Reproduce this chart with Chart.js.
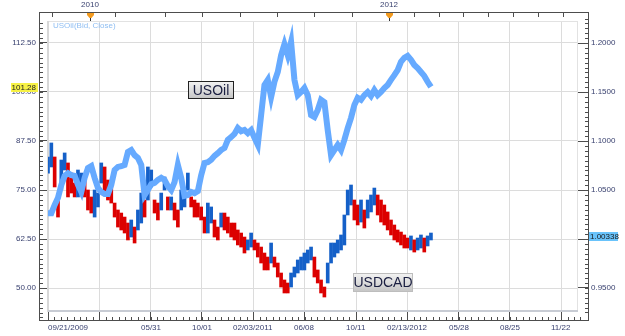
<!DOCTYPE html>
<html>
<head>
<meta charset="utf-8">
<script src="https://cdn.jsdelivr.net/npm/chart.js@4.4.0/dist/chart.umd.min.js"></script>
<style>
    body { margin: 0; background: #fff; }
    canvas { display: block; }
</style>
</head>
<body>
<canvas id="myChart" width="625" height="336"></canvas>
<script>
// eje x: una muestra por barra (indice), etiquetas de fecha en las marcas
const posTicksX = [0, 15.4, 30.8, 46.2, 61.6, 77.0, 92.5, 107.9, 123.3, 138.7, 154.1];
const etiquetasFechas = ['09/21/2009', '', '05/31', '10/01', '02/03/2011', '06/08', '10/11', '02/13/2012', '05/28', '08/25', '11/22'];
const ticksIzq = [50, 62.5, 75, 87.5, 100, 112.5];
const ticksDer = [0.95, 1.0, 1.05, 1.1, 1.15, 1.2];
const marcasAnio = [{ x: 12.6, texto: '2010' }, { x: 102.4, texto: '2012' }];
const ticksSuperiores = [1.2, 20.1, 35.1, 46.2, 57.7, 68.8, 79.9, 91.3, 109.9, 117.4, 124.6, 132.1, 139.6, 147.1, 154.7];

// USOil (Bid, Close) - eje izquierdo
const usoil = [
    69.1, 69.1, 71.2, 73.0, 76.3, 78.6, 79.3, 78.8, 78.6, 76.3,
    74.5, 78.1, 80.6, 81.1, 78.1, 75.5, 74.5, 74.0, 74.0, 76.3,
    80.1, 80.9, 81.1, 81.4, 84.7, 85.2, 83.9, 83.2, 81.4, 73.7,
    75.0, 76.5, 76.8, 77.6, 78.1, 77.6, 76.0, 75.0, 77.0, 81.4,
    78.1, 73.5, 73.7, 74.5, 74.2, 74.7, 78.8, 81.9, 82.1, 82.7,
    83.7, 84.4, 85.2, 85.7, 87.8, 88.5, 89.3, 90.8, 90.0, 90.3,
    89.5, 90.3, 88.3, 86.5, 94.1, 101.8, 103.1, 98.7, 102.6, 105.1,
    109.4, 112.2, 109.4, 112.8, 103.1, 99.2, 100.0, 101.0, 99.2, 94.1,
    93.6, 95.4, 98.0, 97.4, 90.3, 83.9, 85.2, 86.5, 85.2, 87.8,
    90.8, 93.4, 96.7, 98.5, 98.0, 99.2, 100.0, 99.0, 100.5, 99.2,
    100.0, 101.0, 101.8, 103.1, 104.3, 105.6, 107.7, 108.7, 109.2, 108.2,
    106.9, 106.1, 105.1, 104.1, 102.6, 101.28
];

// USDCAD minimos y maximos - eje derecho
const usdcadMin = [
    1.0673, 1.0735, 1.0531, 1.0224, 1.0500, 1.0704, 1.0429, 1.0469, 1.0429, 1.0429,
    1.0500, 1.0429, 1.0296, 1.0265, 1.0224, 1.0327, 1.0571, 1.0469, 1.0398, 1.0367,
    1.0224, 1.0122, 1.0092, 1.0061, 0.9990, 1.0020, 0.9959, 1.0092, 1.0163, 1.0224,
    1.0398, 1.0531, 1.0265, 1.0194, 1.0296, 1.0500, 1.0296, 1.0296, 1.0194, 1.0122,
    1.0296, 1.0327, 1.0500, 1.0327, 1.0224, 1.0224, 1.0194, 1.0061, 1.0061, 1.0163,
    1.0020, 0.9990, 1.0122, 1.0092, 1.0061, 1.0020, 0.9990, 0.9939, 0.9918, 0.9857,
    0.9888, 0.9918, 0.9888, 0.9816, 0.9755, 0.9684, 0.9684, 0.9755, 0.9714, 0.9612,
    0.9510, 0.9449, 0.9449, 0.9510, 0.9612, 0.9653, 0.9684, 0.9684, 0.9755, 0.9786,
    0.9612, 0.9551, 0.9449, 0.9408, 0.9551, 0.9755, 0.9816, 0.9857, 0.9888, 0.9939,
    1.0245, 1.0347, 1.0194, 1.0143, 1.0173, 1.0112, 1.0214, 1.0276, 1.0347, 1.0245,
    1.0173, 1.0143, 1.0092, 1.0041, 0.9990, 0.9969, 0.9939, 0.9908, 0.9908, 0.9888,
    0.9867, 0.9888, 0.9908, 0.9867, 0.9929, 0.9990
];
const usdcadMax = [
    1.0837, 1.0980, 1.0837, 1.0429, 1.0806, 1.0878, 1.0776, 1.0673, 1.0571, 1.0704,
    1.0673, 1.0633, 1.0500, 1.0429, 1.0500, 1.0469, 1.0776, 1.0735, 1.0602, 1.0571,
    1.0367, 1.0296, 1.0265, 1.0224, 1.0163, 1.0194, 1.0122, 1.0296, 1.0469, 1.0398,
    1.0735, 1.0704, 1.0398, 1.0367, 1.0469, 1.0633, 1.0429, 1.0429, 1.0367, 1.0296,
    1.0500, 1.0469, 1.0673, 1.0429, 1.0398, 1.0367, 1.0327, 1.0224, 1.0367, 1.0327,
    1.0194, 1.0122, 1.0265, 1.0265, 1.0224, 1.0163, 1.0163, 1.0092, 1.0061, 1.0020,
    0.9990, 1.0061, 0.9990, 0.9959, 0.9918, 0.9857, 0.9816, 0.9959, 0.9816, 0.9755,
    0.9653, 0.9582, 0.9551, 0.9653, 0.9714, 0.9786, 0.9816, 0.9857, 0.9888, 0.9918,
    0.9816, 0.9684, 0.9582, 0.9510, 0.9755, 0.9959, 0.9959, 0.9990, 1.0041, 1.0245,
    1.0500, 1.0551, 1.0398, 1.0347, 1.0398, 1.0296, 1.0398, 1.0449, 1.0520, 1.0449,
    1.0398, 1.0347, 1.0276, 1.0194, 1.0143, 1.0092, 1.0071, 1.0041, 1.0010, 1.0031,
    0.9990, 1.0010, 1.0041, 1.0010, 1.0031, 1.0061
];
const ultimoUsoil = 101.28;
const ultimoUsdcad = 1.00338;

const colorTexto = '#3a4270';
const colorEje = '#4d4d4d';

const ctx = document.getElementById('myChart');

let puntosUsoil = usoil.map((v, i) => ({ x: i, y: v }));
let barrasUsdcad = usdcadMin.map((lo, i) => ({ x: i, y: [lo, usdcadMax[i]] }));
// azul si sube respecto a la barra anterior, rojo si baja
let coloresUsdcad = usdcadMin.map((lo, i) => {
    if (i === 0) return '#1560c8';
    let medio = (lo + usdcadMax[i]) / 2;
    let anterior = (usdcadMin[i - 1] + usdcadMax[i - 1]) / 2;
    return medio >= anterior ? '#1560c8' : '#dc0000';
});

let cajaEtiqueta = (c, x, y, w, h, texto, conBorde) => {
    let grad = c.createLinearGradient(0, y, 0, y + h);
    grad.addColorStop(0, '#f4f4f4');
    grad.addColorStop(1, '#c4c4c4');
    c.fillStyle = grad;
    c.fillRect(x, y, w, h);
    c.strokeStyle = conBorde ? '#222' : '#bdbdbd';
    c.lineWidth = 1;
    c.strokeRect(Math.round(x) + 0.5, Math.round(y) + 0.5, w - 1, h - 1);
    c.fillStyle = '#1a1e40';
    c.font = '14px "Liberation Sans", Arial, sans-serif';
    c.textAlign = 'center';
    c.textBaseline = 'middle';
    c.fillText(texto, x + w / 2, y + h / 2 + 1);
};

const decoraciones = {
    id: 'decoraciones',
    beforeDatasetsDraw(chart) {
        const c = chart.ctx;
        const a = chart.chartArea;
        c.save();
        c.strokeStyle = '#e2e2e2';
        c.lineWidth = 1;
        c.strokeRect(a.left + 0.5, a.top + 0.5, a.right - a.left - 1, a.bottom - a.top - 1);
        c.fillStyle = '#d8d8d8';
        c.fillRect(a.left - 1, a.top, 2, a.bottom - a.top);
        c.fillStyle = '#c8ccd4';
        c.fillRect(a.left, a.bottom - 2, a.right - a.left, 2);
        c.restore();
    },
    afterDraw(chart) {
        const c = chart.ctx;
        const a = chart.chartArea;
        const sx = chart.scales.x, sy = chart.scales.y, sy2 = chart.scales.y2;
        const izq = a.left - 8, der = a.right + 10, arr = a.top - 8, aba = a.bottom + 8;
        c.save();

        // marco exterior
        c.strokeStyle = colorEje;
        c.lineWidth = 1;
        c.strokeRect(izq - 0.5, arr - 0.5, der - izq + 1, aba - arr + 1);

        // marcas menores
        c.beginPath();
        for (let v = 42.5; v <= 118.5; v += 1.25) {
            let y = Math.round(sy.getPixelForValue(v)) + 0.5;
            if (y > arr && y < aba) { c.moveTo(izq, y); c.lineTo(izq + 3, y); }
        }
        for (let v = 0.925; v <= 1.225; v += 0.005) {
            let y = Math.round(sy2.getPixelForValue(v)) + 0.5;
            if (y > arr && y < aba) { c.moveTo(der - 3, y); c.lineTo(der, y); }
        }
        for (let v = 0; v <= 160; v += 15.41 / 8) {
            let x = Math.round(sx.getPixelForValue(v)) + 0.5;
            if (x > izq && x < der) { c.moveTo(x, aba - 3); c.lineTo(x, aba); }
        }
        ticksSuperiores.forEach(v => {
            let x = Math.round(sx.getPixelForValue(v)) + 0.5;
            c.moveTo(x, arr); c.lineTo(x, arr + 4);
        });
        c.stroke();

        // marcas de anio arriba
        c.font = '8px "Liberation Sans", Arial, sans-serif';
        c.textAlign = 'center';
        c.textBaseline = 'middle';
        marcasAnio.forEach(m => {
            let x = Math.round(sx.getPixelForValue(m.x));
            c.strokeStyle = '#333';
            c.beginPath();
            c.moveTo(x + 0.5, arr + 3); c.lineTo(x + 0.5, arr + 8);
            c.stroke();
            c.fillStyle = '#f39a1e';
            c.beginPath();
            c.moveTo(x - 3, arr); c.lineTo(x + 4, arr); c.lineTo(x + 4, arr + 2);
            c.lineTo(x + 1.5, arr + 5); c.lineTo(x - 0.5, arr + 5); c.lineTo(x - 3, arr + 2);
            c.closePath();
            c.fill();
            c.fillStyle = colorTexto;
            c.fillText(m.texto, x, arr - 8);
        });

        // etiquetas de fecha
        c.fillStyle = colorTexto;
        posTicksX.forEach((v, i) => {
            let texto = etiquetasFechas[i];
            if (!texto) return;
            let x = sx.getPixelForValue(v);
            let w = c.measureText(texto).width;
            let x0 = Math.max(x - w / 2, a.left);
            c.textAlign = 'left';
            c.fillText(texto, Math.round(x0), aba + 8);
        });

        // leyenda
        c.fillStyle = '#8fbef2';
        c.textAlign = 'left';
        c.fillText('USOil(Bid, Close)', a.left + 5, a.top + 5);

        // ultimo valor USOil
        let yOil = Math.round(sy.getPixelForValue(ultimoUsoil));
        c.fillStyle = '#f7f246';
        c.fillRect(11, yOil - 4, 27, 9);
        c.fillStyle = '#202020';
        c.textAlign = 'right';
        c.fillText(ultimoUsoil.toFixed(2), 36, yOil + 0.5);

        // ultimo valor USDCAD
        let yCad = Math.round(sy2.getPixelForValue(ultimoUsdcad));
        c.fillStyle = '#69c3fb';
        c.fillRect(der + 1, yCad - 4, 29, 9);
        c.fillStyle = '#1a1a1a';
        c.textAlign = 'left';
        c.fillText(ultimoUsdcad.toFixed(5), der + 2, yCad + 0.5);

        // rotulos
        let xa = sx.getPixelForValue(49), ya = sy.getPixelForValue(100.4);
        cajaEtiqueta(c, Math.round(xa - 23), Math.round(ya - 9), 46, 18, 'USOil', true);
        let xb = sx.getPixelForValue(100.6), yb = sy.getPixelForValue(51.4);
        cajaEtiqueta(c, Math.round(xb - 30), Math.round(yb - 10), 60, 19, 'USDCAD', false);

        c.restore();
    }
};

Chart.defaults.font.family = '"Liberation Sans", Arial, sans-serif';
Chart.defaults.font.size = 8;

let chart = new Chart(ctx, {
    type: 'bar',
    data: {
        datasets: [{
            type: 'line',
            label: 'USOil',
            data: puntosUsoil,
            yAxisID: 'y',
            borderColor: '#66aaff',
            borderWidth: 6,
            borderJoinStyle: 'miter',
            pointRadius: 0,
            tension: 0,
            order: 0
        },
        {
            type: 'bar',
            label: 'USDCAD',
            data: barrasUsdcad,
            yAxisID: 'y2',
            backgroundColor: coloresUsdcad,
            barThickness: 3,
            order: 1
        }]
    },
    options: {
        responsive: false,
        animation: false,
        layout: {
            padding: { top: 21 }
        },
        plugins: {
            legend: { display: false },
            tooltip: { enabled: false }
        },
        scales: {
            x: {
                type: 'linear',
                min: 0,
                max: 159.16,
                offset: false,
                afterBuildTicks: s => { s.ticks = posTicksX.map(v => ({ value: v })); },
                afterFit: s => { s.height = 24; },
                grid: { color: '#dcdcdc', offset: false, tickLength: 8, tickColor: colorEje },
                border: { display: false },
                ticks: { display: false }
            },
            y: {
                position: 'left',
                min: 43.88,
                max: 118.11,
                afterBuildTicks: s => { s.ticks = ticksIzq.map(v => ({ value: v })); },
                afterFit: s => { s.width = 48; },
                grid: { color: '#dcdcdc', tickLength: 8, tickColor: colorEje },
                border: { display: false },
                ticks: {
                    padding: 4,
                    color: colorTexto,
                    callback: v => v.toFixed(2)
                }
            },
            y2: {
                position: 'right',
                min: 0.92551,
                max: 1.22245,
                afterBuildTicks: s => { s.ticks = ticksDer.map(v => ({ value: v })); },
                afterFit: s => { s.width = 47; },
                grid: { drawOnChartArea: false, tickLength: 10, tickColor: colorEje },
                border: { display: false },
                ticks: {
                    padding: 3,
                    color: colorTexto,
                    callback: v => v.toFixed(4)
                }
            }
        }
    },
    plugins: [decoraciones]
});
</script>
</body>
</html>
